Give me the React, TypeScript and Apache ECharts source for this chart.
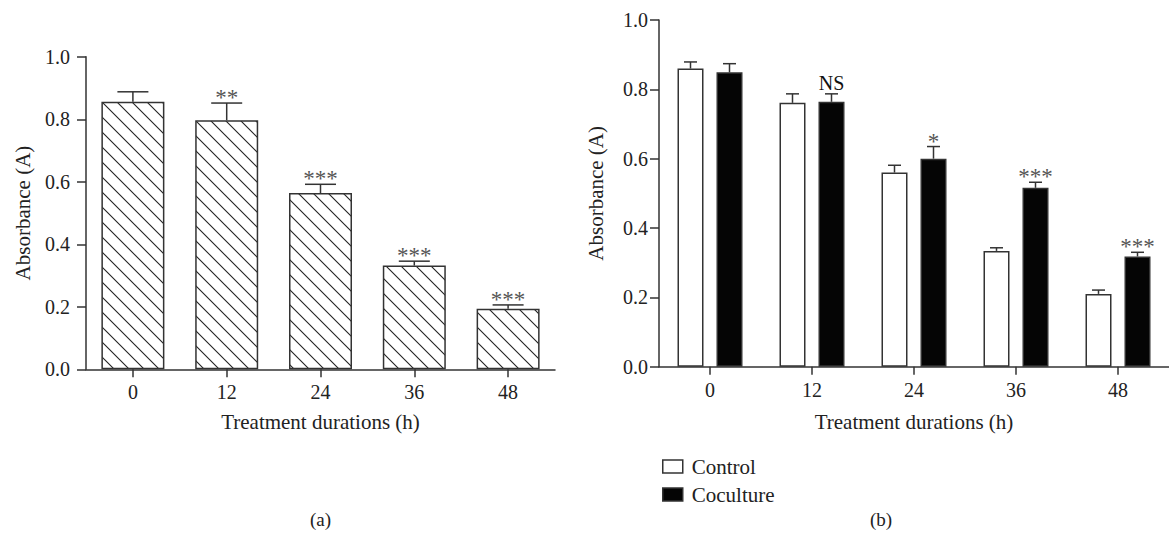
import React, { useEffect, useRef } from "react";
import * as echarts from "echarts";

const hours = ["0", "12", "24", "36", "48"];

// Panel (a)
const aMeans = [0.856, 0.797, 0.564, 0.332, 0.194];
const aErrTop = [0.888, 0.852, 0.592, 0.346, 0.206];
const aMarks = ["", "**", "***", "***", "***"];

// Panel (b)
const controlMeans = [0.86, 0.761, 0.56, 0.334, 0.21];
const controlErrTop = [0.879, 0.787, 0.581, 0.343, 0.221];
const cocultureMeans = [0.849, 0.764, 0.6, 0.516, 0.318];
const cocultureErrTop = [0.874, 0.787, 0.635, 0.532, 0.33];
const cocultureMarks = ["", "NS", "*", "***", "***"];

const FONT = "Liberation Serif";
const INK = "#333";
const TEXT = "#222";

const hatchSvg =
  "<svg xmlns='http://www.w3.org/2000/svg' width='15' height='15'>" +
  "<rect width='15' height='15' fill='white'/>" +
  "<path d='M-2,-2 L17,17 M-2,13 L2,17 M13,-2 L17,2' stroke='#222' stroke-width='1.1' fill='none'/>" +
  "</svg>";
const hatchUrl = "data:image/svg+xml;charset=utf-8," + encodeURIComponent(hatchSvg);

function errorSeries(
  xAxisIndex: number,
  yAxisIndex: number,
  means: number[],
  tops: number[],
  marks: string[],
  offset: number,
  capHalf: number
) {
  return {
    type: "custom",
    xAxisIndex,
    yAxisIndex,
    silent: true,
    z: 5,
    data: means.map((m, i) => [i, m, tops[i]]),
    renderItem: (params: any, api: any) => {
      const i = api.value(0);
      const base = api.coord([i, api.value(1)]);
      const top = api.coord([i, api.value(2)]);
      const x = base[0] + offset;
      const mark = marks[params.dataIndex] || "";
      const children: any[] = [
        {
          type: "line",
          shape: { x1: x, y1: base[1], x2: x, y2: top[1] },
          style: { stroke: INK, lineWidth: 1.5 },
        },
        {
          type: "line",
          shape: { x1: x - capHalf, y1: top[1], x2: x + capHalf, y2: top[1] },
          style: { stroke: INK, lineWidth: 1.5 },
        },
      ];
      if (mark) {
        const isNS = mark === "NS";
        children.push({
          type: "text",
          x,
          y: isNS ? top[1] - 1 : top[1] + 6,
          style: {
            text: mark,
            fill: isNS ? "#111" : "#555",
            fontFamily: FONT,
            fontSize: isNS ? 20 : 23,
            align: "center",
            verticalAlign: "bottom",
          },
        });
      }
      return { type: "group", children };
    },
  };
}

export default function App() {
  const ref = useRef<HTMLDivElement>(null);

  useEffect(() => {
    document.body.style.margin = "0";
    const chart = echarts.init(ref.current!, undefined, { renderer: "svg" });

    const yAxisCommon = (gridIndex: number, labelMargin: number) => ({
      type: "value",
      gridIndex,
      min: 0,
      max: 1,
      interval: 0.2,
      name: "Absorbance (A)",
      nameLocation: "middle",
      nameGap: 53,
      nameTextStyle: { fontFamily: FONT, fontSize: 21, color: TEXT },
      axisLine: { show: true, lineStyle: { color: INK, width: 1.5 } },
      axisTick: { show: true, length: 9, lineStyle: { color: INK, width: 1.5 } },
      axisLabel: {
        fontFamily: FONT,
        fontSize: 20,
        color: TEXT,
        margin: labelMargin,
        formatter: (v: number) => v.toFixed(1),
      },
      splitLine: { show: false },
    });

    const xAxisCommon = (gridIndex: number, nameGap: number, labelMargin: number) => ({
      type: "category",
      gridIndex,
      data: hours,
      name: "Treatment durations (h)",
      nameLocation: "middle",
      nameGap,
      nameTextStyle: { fontFamily: FONT, fontSize: 21, color: TEXT },
      axisLine: { show: true, lineStyle: { color: INK, width: 1.5 } },
      axisTick: { show: true, alignWithLabel: true, length: 8, lineStyle: { color: INK, width: 1.5 } },
      axisLabel: { fontFamily: FONT, fontSize: 20, color: TEXT, margin: labelMargin },
      splitLine: { show: false },
    });

    chart.setOption({
      animation: false,
      backgroundColor: "#fff",
      textStyle: { fontFamily: FONT },
      grid: [
        { left: 86, top: 56.8, width: 469, height: 312.5 },
        { left: 659, top: 20, width: 522.5, height: 346.7 },
      ],
      xAxis: [xAxisCommon(0, 42, 13), xAxisCommon(1, 45, 13)],
      yAxis: [yAxisCommon(0, 16), yAxisCommon(1, 11)],
      legend: {
        orient: "vertical",
        left: 657,
        top: 451,
        itemWidth: 20,
        itemHeight: 13,
        itemGap: 7,
        icon: "rect",
        textStyle: { fontFamily: FONT, fontSize: 21, color: TEXT, padding: [0, 0, 0, 4] },
        data: [
          { name: "Control", itemStyle: { color: "#fff", borderColor: INK, borderWidth: 1.5 } },
          { name: "Coculture", itemStyle: { color: "#050505", borderColor: INK, borderWidth: 1.5 } },
        ],
      },
      graphic: [
        {
          type: "text",
          left: 310,
          top: 510,
          style: { text: "(a)", fontFamily: FONT, fontSize: 19, fill: TEXT },
        },
        {
          type: "text",
          left: 870,
          top: 510,
          style: { text: "(b)", fontFamily: FONT, fontSize: 19, fill: TEXT },
        },
      ],
      series: [
        {
          name: "Absorbance",
          type: "bar",
          xAxisIndex: 0,
          yAxisIndex: 0,
          barWidth: 63,
          data: aMeans,
          itemStyle: {
            color: { image: hatchUrl, repeat: "repeat", imageWidth: 15, imageHeight: 15 } as any,
            borderColor: INK,
            borderWidth: 1.5,
          },
        },
        {
          name: "Control",
          type: "bar",
          xAxisIndex: 1,
          yAxisIndex: 1,
          barWidth: 26,
          barGap: "50%",
          data: controlMeans,
          itemStyle: { color: "#fff", borderColor: INK, borderWidth: 1.5 },
        },
        {
          name: "Coculture",
          type: "bar",
          xAxisIndex: 1,
          yAxisIndex: 1,
          barWidth: 26,
          barGap: "50%",
          data: cocultureMeans,
          itemStyle: { color: "#050505", borderColor: INK, borderWidth: 1.5 },
        },
        errorSeries(0, 0, aMeans, aErrTop, aMarks, 0, 15.5),
        errorSeries(1, 1, controlMeans, controlErrTop, [], -19.5, 6.5),
        errorSeries(1, 1, cocultureMeans, cocultureErrTop, cocultureMarks, 19.5, 6.5),
      ],
    } as any);

    return () => chart.dispose();
  }, []);

  return <div ref={ref} style={{ width: 1169, height: 537 }} />;
}
